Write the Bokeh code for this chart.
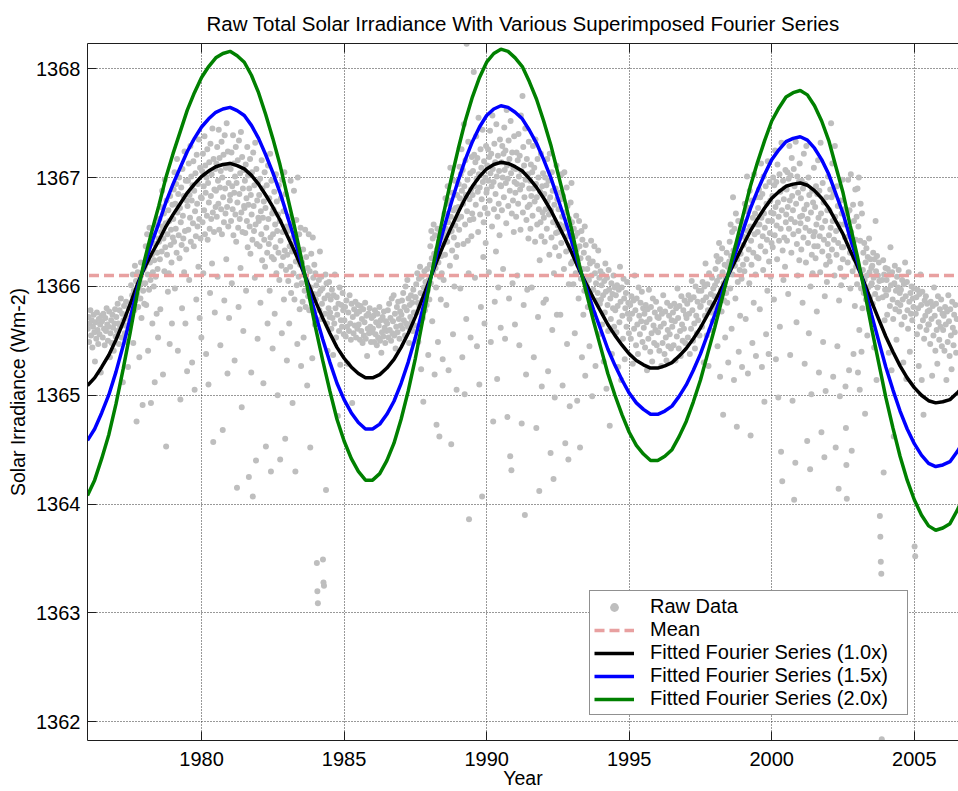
import numpy as np
from bokeh.plotting import figure
from bokeh.models import (FixedTicker, LinearAxis, Legend, LegendItem, Range1d,
                          CustomJSTickFormatter)
from bokeh.embed import file_html
from bokeh.resources import INLINE

# ---------------- texts ----------------
TITLE = "Raw Total Solar Irradiance With Various Superimposed Fourier Series"
X_LABEL = "Year"
Y_LABEL = "Solar Irradiance (Wm-2)"
LEGEND_LABELS = ["Raw Data", "Mean", "Fitted Fourier Series (1.0x)",
                 "Fitted Fourier Series (1.5x)", "Fitted Fourier Series (2.0x)"]

# ---------------- axes ----------------
X_TICKS = [1980, 1985, 1990, 1995, 2000, 2005]
Y_TICKS = [1362, 1363, 1364, 1365, 1366, 1367, 1368]
X_LIMITS = (1976.0, 2006.55)
Y_LIMITS = (1361.828, 1368.232)

# ---------------- data ----------------
MEAN_TSI = 1366.1
FIT_SCALES = [1.0, 1.5, 2.0]
FIT_START, FIT_STEP = 1976.0, 0.25
# fitted Fourier series (1.0x), sampled every quarter year from 1976.00
FIT_1X = [
    1365.09, 1365.16, 1365.26, 1365.37, 1365.51, 1365.67, 1365.84, 1366.02,
    1366.17, 1366.30, 1366.42, 1366.55, 1366.66, 1366.76, 1366.86, 1366.94,
    1367.01, 1367.06, 1367.10, 1367.12, 1367.13, 1367.11, 1367.08, 1367.02,
    1366.94, 1366.84, 1366.73, 1366.61, 1366.47, 1366.33, 1366.18, 1366.02,
    1365.86, 1365.71, 1365.57, 1365.44, 1365.34, 1365.26, 1365.20, 1365.16,
    1365.16, 1365.19, 1365.25, 1365.33, 1365.44, 1365.57, 1365.72, 1365.89,
    1366.06, 1366.23, 1366.39, 1366.54, 1366.68, 1366.81, 1366.92, 1367.01,
    1367.08, 1367.12, 1367.14, 1367.13, 1367.10, 1367.06, 1366.99, 1366.91,
    1366.81, 1366.70, 1366.57, 1366.44, 1366.30, 1366.15, 1366.02, 1365.89,
    1365.77, 1365.65, 1365.55, 1365.46, 1365.38, 1365.32, 1365.28, 1365.25,
    1365.25, 1365.27, 1365.30, 1365.36, 1365.43, 1365.52, 1365.62, 1365.74,
    1365.86, 1365.99, 1366.12, 1366.25, 1366.38, 1366.51, 1366.62, 1366.72,
    1366.81, 1366.87, 1366.92, 1366.94, 1366.95, 1366.93, 1366.88, 1366.81,
    1366.72, 1366.60, 1366.48, 1366.33, 1366.19, 1366.03, 1365.86, 1365.70,
    1365.54, 1365.40, 1365.27, 1365.16, 1365.07, 1365.00, 1364.95, 1364.93,
    1364.94, 1364.96, 1365.02, 1365.09,
]

# raw irradiance, grouped in half-year bins starting 1976.0; values are
# hundredths of W m-2 above 1360 (562 -> 1365.62), in time order inside a bin
RAW_BASE = 1360.0
RAW_BIN_START, RAW_BIN_WIDTH = 1976.0, 0.5
RAW_BINS = [
    [561, 572, 549, 566, 578, 555, 569, 544, 563, 574, 558, 531, 567, 552, 576, 560, 547, 570, 556, 565, 521, 573],
    [568, 553, 575, 561, 546, 571, 559, 580, 565, 550, 563, 577, 535, 557, 569, 548, 574, 562, 541, 566, 579, 554],
    [572, 559, 584, 566, 547, 578, 563, 589, 553, 575, 512, 569, 582, 557, 564, 586, 549, 571, 526, 561, 580, 567],
    [583, 601, 574, 592, 611, 548, 596, 578, 619, 587, 605, 476, 593, 613, 581, 599, 535, 607, 589, 622, 571, 603, 491, 596, 616, 584],
    [618, 603, 637, 583, 626, 648, 611, 541, 632, 597, 654, 622, 606, 493, 641, 629, 566, 613, 647, 600, 624, 512, 639, 609, 657, 575, 631, 616, 553, 644],
    [641, 662, 625, 579, 673, 650, 632, 688, 655, 519, 644, 667, 614, 698, 636, 658, 453, 679, 629, 648, 595, 670, 612, 660, 547, 683, 638, 652, 622, 566, 675, 645],
    [662, 689, 641, 705, 598, 676, 653, 694, 631, 717, 668, 541, 685, 647, 700, 626, 672, 496, 659, 691, 638, 580, 708, 665, 644, 683, 613, 724, 651, 566, 697, 634, 679, 522],
    [674, 697, 652, 713, 606, 684, 663, 729, 641, 701, 679, 530, 693, 658, 715, 637, 688, 505, 669, 704, 646, 588, 721, 676, 655, 694, 618, 735, 662, 571, 709, 644, 682, 553],
    [681, 706, 659, 722, 612, 692, 670, 738, 648, 711, 686, 538, 700, 665, 726, 643, 695, 510, 677, 714, 653, 594, 731, 683, 662, 703, 621, 745, 668, 457, 717, 650, 689, 576, 708, 673],
    [688, 713, 664, 728, 609, 697, 676, 744, 652, 718, 691, 546, 706, 671, 733, 648, 700, 468, 682, 721, 659, 587, 739, 690, 667, 709, 625, 750, 673, 520, 724, 655, 695, 571, 712, 679],
    [684, 708, 660, 723, 603, 692, 671, 739, 647, 713, 686, 532, 701, 666, 728, 641, 695, 415, 677, 716, 654, 581, 734, 685, 662, 704, 617, 742, 668, 489, 719, 650, 690, 559, 707, 674],
    [672, 697, 649, 712, 596, 681, 660, 728, 636, 702, 675, 425, 690, 655, 717, 630, 684, 521, 666, 705, 643, 407, 723, 674, 651, 693, 608, 732, 657, 440, 708, 639, 679, 552, 696, 663],
    [660, 684, 637, 699, 585, 669, 648, 716, 624, 690, 663, 511, 678, 643, 705, 618, 672, 453, 654, 693, 631, 566, 711, 662, 639, 681, 596, 722, 645, 430, 697, 627, 667, 543],
    [648, 671, 625, 687, 575, 657, 636, 703, 612, 678, 651, 500, 666, 631, 693, 606, 660, 441, 642, 681, 619, 557, 698, 650, 627, 669, 588, 705, 633, 460, 685, 615, 655, 532],
    [629, 651, 605, 664, 566, 637, 618, 697, 594, 657, 632, 493, 645, 612, 688, 588, 640, 430, 623, 661, 601, 547, 700, 634, 609, 648, 579, 620, 654, 527],
    [603, 622, 586, 634, 553, 611, 596, 652, 581, 627, 606, 509, 617, 591, 648, 578, 614, 452, 599, 630, 588, 534, 645, 608, 593, 620, 565, 612],
    [588, 601, 346, 320, 309, 593, 606, 578, 632, 596, 570, 609, 584, 598, 349, 328, 325, 589, 575, 611, 413, 603, 566, 541, 592, 580, 604, 572],
    [576, 588, 561, 597, 571, 537, 592, 566, 611, 580, 553, 590, 574, 481, 584, 559, 599, 528, 569, 583, 563, 594, 578, 556],
    [569, 581, 554, 587, 563, 529, 576, 559, 592, 566, 551, 584, 493, 572, 557, 579, 564, 586, 553, 575, 561, 583],
    [565, 577, 551, 582, 559, 570, 548, 579, 555, 567, 585, 552, 573, 536, 561, 575, 557, 580, 563, 549, 571, 558],
    [561, 573, 549, 578, 556, 567, 546, 575, 553, 564, 581, 550, 569, 539, 558, 572, 554, 577, 562, 548, 568, 559],
    [566, 578, 553, 584, 560, 571, 550, 589, 557, 568, 592, 555, 575, 543, 563, 581, 558, 586, 570, 552, 577, 564],
    [574, 587, 561, 594, 569, 581, 555, 600, 566, 578, 606, 563, 589, 548, 583, 572, 592, 567, 585, 559, 597, 576, 564, 590],
    [590, 602, 576, 612, 585, 549, 607, 581, 618, 594, 524, 609, 587, 571, 494, 599, 614, 578, 604, 592, 583, 616, 596, 537, 606, 588],
    [620, 637, 603, 651, 626, 568, 644, 613, 657, 630, 519, 647, 617, 599, 473, 634, 653, 549, 622, 641, 462, 609, 649, 588, 628, 612, 645, 533, 639, 606],
    [648, 667, 629, 681, 653, 583, 676, 641, 692, 659, 523, 679, 650, 619, 709, 664, 455, 651, 633, 686, 556, 670, 645, 600, 697, 656, 672, 627, 505, 684, 638, 662],
    [673, 694, 652, 710, 681, 598, 703, 664, 726, 688, 535, 707, 676, 639, 749, 692, 501, 657, 716, 684, 570, 823, 669, 698, 642, 733, 612, 386, 680, 661, 704, 553, 689, 646, 719, 667],
    [684, 706, 662, 797, 721, 692, 608, 714, 675, 738, 699, 545, 718, 687, 650, 755, 703, 510, 691, 666, 726, 581, 709, 680, 407, 744, 696, 627, 659, 715, 566, 672, 700, 640, 729, 686],
    [689, 711, 667, 726, 697, 613, 719, 679, 743, 704, 549, 722, 692, 655, 757, 708, 476, 696, 671, 731, 586, 714, 685, 632, 749, 701, 515, 664, 720, 599, 676, 706, 647, 735, 693, 562],
    [692, 714, 670, 729, 700, 616, 722, 682, 746, 707, 552, 725, 695, 658, 762, 711, 480, 699, 674, 734, 589, 717, 688, 444, 752, 704, 431, 667, 723, 603, 679, 709, 650, 738, 696, 565],
    [686, 708, 664, 723, 694, 610, 716, 676, 740, 701, 546, 720, 689, 652, 757, 706, 474, 693, 775, 668, 728, 583, 711, 682, 390, 745, 698, 519, 661, 717, 597, 673, 703, 644, 733, 690],
    [675, 697, 653, 712, 683, 599, 705, 665, 729, 690, 535, 709, 678, 641, 735, 694, 470, 682, 657, 717, 572, 700, 671, 412, 624, 687, 659, 722, 646, 508, 692, 668, 704, 585],
    [663, 685, 641, 700, 671, 588, 693, 653, 717, 678, 522, 697, 666, 629, 722, 682, 447, 670, 645, 705, 560, 688, 659, 423, 612, 675, 498, 636, 690, 649, 711, 574, 680, 656],
    [650, 671, 628, 686, 657, 574, 680, 640, 703, 664, 509, 683, 653, 616, 705, 668, 456, 656, 632, 691, 547, 674, 646, 441, 602, 662, 490, 637, 677, 621, 695, 659],
    [623, 640, 602, 653, 629, 557, 646, 612, 665, 634, 495, 649, 620, 589, 660, 637, 452, 626, 607, 651, 535, 643, 616, 574, 631, 596, 655, 518, 638, 609],
    [601, 616, 581, 626, 606, 545, 621, 590, 642, 610, 499, 623, 597, 575, 637, 612, 527, 603, 587, 619, 594, 633, 556, 608, 584, 614],
    [588, 601, 565, 611, 592, 531, 605, 576, 621, 595, 506, 608, 583, 559, 615, 597, 472, 589, 570, 603, 538, 593, 580, 610, 563, 599],
    [578, 592, 558, 601, 582, 526, 597, 567, 618, 586, 514, 599, 573, 552, 607, 589, 533, 580, 594, 563, 604, 575, 585, 557],
    [570, 583, 552, 591, 575, 529, 587, 561, 610, 578, 546, 589, 565, 538, 599, 573, 556, 585, 568, 595, 549, 580],
    [562, 575, 544, 583, 567, 523, 579, 552, 597, 570, 540, 581, 557, 531, 589, 564, 548, 576, 560, 586, 546, 572],
    [558, 571, 541, 579, 563, 527, 575, 548, 592, 566, 538, 577, 553, 532, 585, 560, 545, 573, 556, 582, 543, 569],
    [563, 576, 546, 584, 568, 532, 580, 554, 598, 571, 543, 582, 559, 536, 591, 565, 550, 578, 561, 587, 548, 574],
    [571, 584, 553, 592, 575, 538, 588, 561, 605, 578, 550, 590, 566, 543, 600, 573, 557, 586, 569, 596, 555, 581],
    [582, 596, 563, 604, 587, 530, 600, 573, 621, 590, 555, 602, 578, 527, 612, 585, 560, 593, 576, 608, 568, 598, 581, 591],
    [601, 616, 582, 628, 605, 545, 623, 591, 640, 609, 517, 625, 597, 577, 635, 613, 482, 603, 587, 620, 553, 607, 594, 631, 585, 618, 530, 611],
    [623, 641, 598, 657, 628, 561, 650, 611, 682, 633, 514, 653, 619, 589, 667, 637, 471, 625, 604, 660, 540, 644, 615, 573, 630, 654, 607, 526, 646, 620],
    [638, 659, 614, 676, 645, 570, 669, 625, 701, 651, 520, 672, 634, 603, 688, 655, 463, 642, 620, 679, 548, 663, 631, 585, 703, 648, 667, 611, 536, 682, 627, 657],
    [650, 672, 626, 689, 657, 579, 682, 637, 713, 663, 526, 685, 646, 615, 701, 667, 494, 654, 632, 692, 556, 676, 643, 596, 715, 660, 538, 623, 696, 649, 679, 609, 668, 640],
    [660, 683, 636, 700, 667, 588, 693, 647, 725, 673, 533, 696, 656, 625, 712, 677, 498, 664, 642, 703, 563, 687, 653, 448, 732, 670, 421, 633, 697, 606, 680, 645, 690, 618, 707, 659],
    [666, 689, 642, 705, 673, 593, 699, 653, 729, 679, 537, 702, 662, 631, 718, 683, 495, 670, 648, 708, 404, 692, 659, 438, 733, 676, 567, 639, 701, 610, 686, 651, 696, 624, 713, 664],
    [658, 681, 634, 697, 665, 585, 690, 645, 722, 671, 529, 694, 654, 622, 729, 675, 458, 662, 640, 700, 557, 684, 651, 432, 600, 668, 501, 629, 688, 612, 677, 646, 709, 637],
    [650, 673, 626, 692, 657, 577, 685, 637, 716, 663, 521, 688, 646, 613, 732, 667, 466, 654, 632, 695, 549, 677, 643, 443, 591, 660, 504, 620, 682, 604, 670, 639, 701, 628],
    [647, 670, 623, 689, 654, 750, 682, 634, 713, 660, 517, 685, 643, 610, 729, 664, 452, 651, 629, 692, 545, 674, 640, 414, 587, 657, 499, 617, 679, 601, 667, 636, 698, 625],
    [636, 657, 609, 671, 645, 508, 470, 436, 405, 667, 622, 698, 646, 523, 670, 631, 598, 703, 650, 449, 639, 614, 675, 538, 660, 626, 582, 689, 643, 618, 664, 602],
    [690, 521, 655, 700, 560, 505, 642, 676, 598, 540, 667, 580, 615, 631, 594, 640, 606, 483, 622, 588, 635, 610, 555, 627, 599, 579, 644, 613, 590, 625, 601, 617],
    [603, 619, 584, 631, 608, 544, 625, 593, 660, 614, 514, 628, 599, 610, 589, 622, 605, 389, 370, 347, 336, 184, 606, 590, 624, 429, 611, 569, 597, 617],
    [592, 606, 574, 616, 597, 539, 611, 582, 636, 601, 523, 613, 588, 570, 462, 603, 619, 579, 596, 551, 609, 585, 599, 615, 577, 594],
    [583, 597, 565, 606, 588, 530, 602, 572, 622, 591, 515, 604, 578, 561, 613, 586, 540, 594, 575, 600, 569, 589, 581, 598],
    [361, 352, 575, 590, 556, 597, 580, 527, 593, 563, 611, 583, 514, 595, 569, 482, 552, 587, 573, 591, 560, 584, 577, 565],
    [565, 578, 547, 586, 570, 518, 582, 555, 599, 573, 541, 584, 560, 529, 591, 567, 551, 579, 563, 588, 545, 575],
    [560, 573, 541, 581, 565, 514, 577, 549, 592, 568, 536, 579, 555, 524, 586, 562, 546, 574, 558, 583, 539, 570],
]

# ---------------- styles ----------------
FONT = "Liberation Sans"
RAW_COLOR = "#BEBEBE"
MEAN_COLOR = "#E8A0A0"
FIT_COLORS = ["#000000", "#0000FF", "#008000"]
AXIS_COLOR = "#1E1E1E"

# ---------------- assemble data ----------------
raw_x, raw_y = [], []
for k, vals in enumerate(RAW_BINS):
    start = RAW_BIN_START + k * RAW_BIN_WIDTH
    n = len(vals)
    for j, v in enumerate(vals):
        raw_x.append(start + (j + 0.5) * RAW_BIN_WIDTH / n)
        raw_y.append(RAW_BASE + v / 100.0)

fit_x = FIT_START + FIT_STEP * np.arange(len(FIT_1X))
fit_1x = np.array(FIT_1X)

p = figure(width=958, height=791, output_backend="svg", toolbar_location=None,
           x_range=Range1d(*X_LIMITS), y_range=Range1d(*Y_LIMITS),
           min_border_left=87, min_border_right=0, min_border_top=43,
           min_border_bottom=50, background_fill_color="white",
           border_fill_color="white", outline_line_color=None)

p.title.text = TITLE
p.title.align = "center"
p.title.offset = 3
p.title.text_font = FONT
p.title.text_font_size = "20.5px"
p.title.text_font_style = "normal"
p.title.text_color = "black"
p.title.standoff = 18

raw_r = p.scatter(raw_x, raw_y, size=6, marker="circle", fill_color=RAW_COLOR,
                  line_color=None)
mean_r = p.line([X_LIMITS[0] - 1, X_LIMITS[1] + 1], [MEAN_TSI, MEAN_TSI],
                line_color=MEAN_COLOR, line_width=3.5, line_dash="10 5")
fit_rs = []
for scale, col in zip(FIT_SCALES, FIT_COLORS):
    yy = MEAN_TSI + scale * (fit_1x - MEAN_TSI)
    fit_rs.append(p.line(fit_x, yy, line_color=col, line_width=3.5))

# axes
for ax in (p.xaxis[0], p.yaxis[0]):
    ax.major_tick_in = 9
    ax.major_tick_out = 0
    ax.minor_tick_line_color = None
    ax.axis_line_color = AXIS_COLOR
    ax.major_tick_line_color = AXIS_COLOR
    ax.major_label_text_font = FONT
    ax.major_label_text_font_size = "20px"
    ax.major_label_text_color = "black"
    ax.axis_label_text_font = FONT
    ax.axis_label_text_font_size = "19.5px"
    ax.axis_label_text_font_style = "normal"
    ax.axis_label_text_color = "black"
p.xaxis[0].ticker = FixedTicker(ticks=X_TICKS)
p.yaxis[0].ticker = FixedTicker(ticks=Y_TICKS)
p.xaxis[0].major_label_standoff = 11
p.xaxis[0].axis_label = X_LABEL
p.xaxis[0].axis_label_standoff = -2
p.yaxis[0].major_label_standoff = 7
p.yaxis[0].axis_label = Y_LABEL
p.yaxis[0].axis_label_standoff = 4

top = LinearAxis(ticker=FixedTicker(ticks=X_TICKS), major_tick_in=9,
                 major_tick_out=0, minor_tick_line_color=None,
                 axis_line_color=AXIS_COLOR, major_tick_line_color=AXIS_COLOR,
                 formatter=CustomJSTickFormatter(code="return ''"),
                 major_label_standoff=0)
p.add_layout(top, "above")

# grid
for g in (p.xgrid[0], p.ygrid[0]):
    g.grid_line_color = "#333333"
    g.grid_line_dash = "1 2"
    g.grid_line_width = 1
p.xgrid[0].ticker = FixedTicker(ticks=X_TICKS)
p.ygrid[0].ticker = FixedTicker(ticks=Y_TICKS)

legend = Legend(items=[LegendItem(label=LEGEND_LABELS[0], renderers=[raw_r]),
                       LegendItem(label=LEGEND_LABELS[1], renderers=[mean_r])] +
                      [LegendItem(label=l, renderers=[r])
                       for l, r in zip(LEGEND_LABELS[2:], fit_rs)],
                location=(502, 25), orientation="vertical",
                padding=4, spacing=0, margin=0,
                glyph_width=40, glyph_height=22, label_height=22,
                label_standoff=16, label_width=253,
                label_text_font=FONT, label_text_font_size="20px",
                label_text_color="black",
                border_line_color="#222222", border_line_width=1,
                background_fill_color="white", background_fill_alpha=1.0)
p.add_layout(legend)

open("out.html", "w").write(file_html(p, INLINE))
